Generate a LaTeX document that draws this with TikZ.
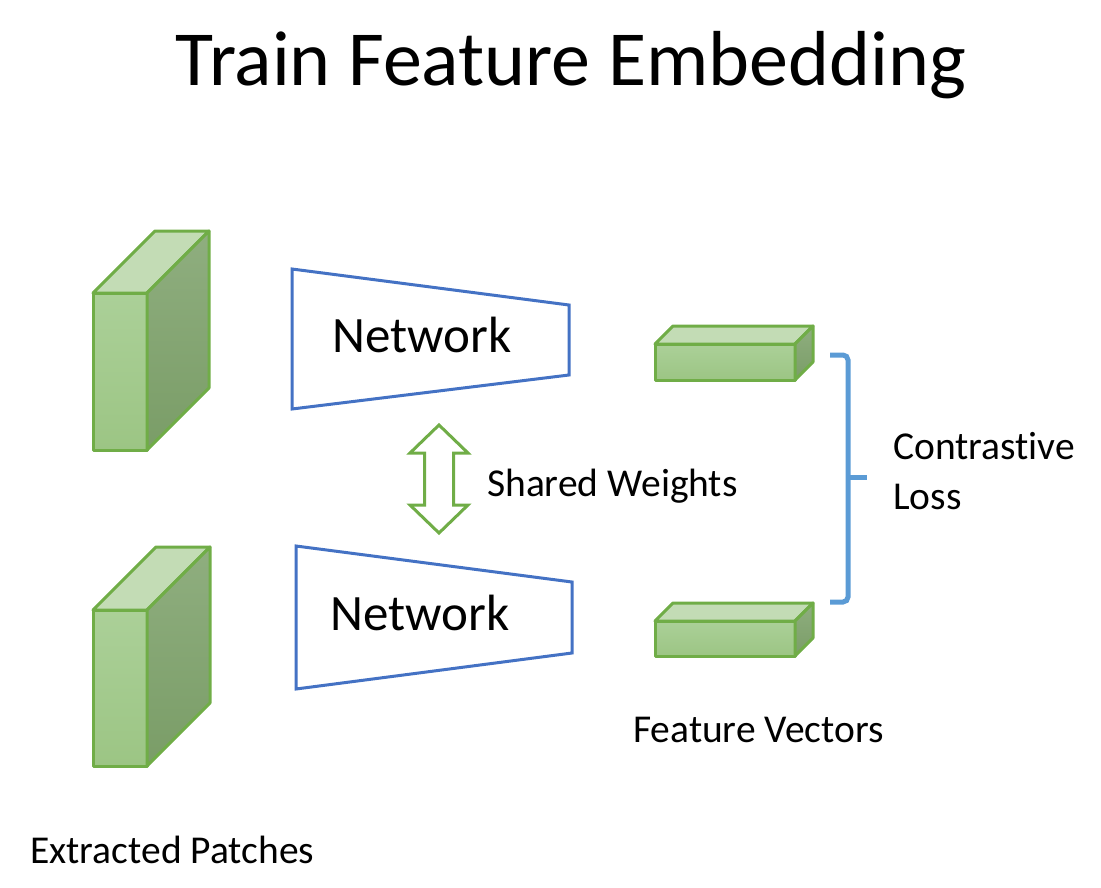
\documentclass[tikz,border=0pt]{standalone}
\usepackage{fontspec}
\setmainfont{Carlito}[Ligatures=NoCommon]
\usetikzlibrary{positioning,calc}

\definecolor{boxline}{HTML}{70AD47}
\definecolor{netline}{HTML}{4472C4}
\definecolor{braceline}{HTML}{5B9BD5}
\definecolor{frontTop}{HTML}{ABD098}
\definecolor{frontBot}{HTML}{9CC584}
\definecolor{topFace}{HTML}{C3DCB5}
\definecolor{sideTop}{HTML}{8FAE7F}
\definecolor{sideBot}{HTML}{7A9D67}

\tikzset{
  cubeedge/.style  = {draw=boxline, line width=3pt, line join=round},
  frontface/.style = {cubeedge, top color=frontTop, bottom color=frontBot},
  topface/.style   = {cubeedge, fill=topFace},
  sideface/.style  = {cubeedge, top color=sideTop, bottom color=sideBot},
  network/.style   = {draw=netline, line width=3pt, line join=miter},
  arrowbox/.style  = {draw=boxline, line width=3pt, fill=white, line join=miter},
  brace/.style     = {draw=braceline, line width=5pt, rounded corners=5pt},
  lbl/.style       = {inner sep=0pt, font=\fontsize{39.5}{47}\selectfont},
  netlbl/.style    = {inner sep=0pt, font=\fontsize{51}{60}\selectfont},
}

% cuboid: name, x, y (front top left), width, height, depth
\newcommand{\cuboid}[6]{%
  \coordinate (#1) at (#2,#3);
  \path[frontface] (#1) rectangle ++(#4,#5);
  \path[topface] (#1) -- ++(#6,-#6) -- ++(#4,0) -- ++(-#6,#6) -- cycle;
  \path[sideface] ($(#1)+(#4,0)$) -- ++(#6,-#6) -- ++(0,#5) -- ++(-#6,#6) -- cycle;
}

\begin{document}
\begin{tikzpicture}[x=1pt, y=-1pt]
  \useasboundingbox (0,0) rectangle (1101,887);

  \node[inner sep=0pt, anchor=base, font=\fontsize{78}{90}\selectfont]
    (title) at (571,85) {Train Feature Embedding};

  % patches
  \cuboid{patchA}{93}{293}{54}{157}{62}
  \cuboid{patchB}{93}{610}{54}{156}{63}
  \node[lbl, anchor=base west] (patchLbl) at (30,863) {Extracted Patches};

  % networks
  \draw[network] (292,269) -- (569,305) -- (569,375) -- (292,409) -- cycle;
  \node[netlbl, anchor=base] (netA) at (422,352) {Network};
  \draw[network] (296,546) -- (572,582) -- (572,653) -- (296,689) -- cycle;
  \node[netlbl, anchor=base] (netB) at (420,630) {Network};

  % shared weights
  \draw[arrowbox] (439,425) -- (468,453) -- (453.5,453) -- (453.5,505)
    -- (468,505) -- (439,533) -- (410,505) -- (424.5,505) -- (424.5,453)
    -- (410,453) -- cycle;
  \coordinate (shared) at (468,486);
  \node[lbl, right=19pt of shared] (sharedLbl) {Shared Weights};

  % feature vectors
  \cuboid{featA}{655}{344}{140}{36}{18}
  \cuboid{featB}{655}{621}{140}{35}{18}
  \node[lbl, anchor=base west] (featLbl) at (633,742) {Feature Vectors};

  % contrastive loss
  \coordinate (braceTop) at (830,355);
  \coordinate (braceBot) at (830,602);
  \coordinate (braceMid) at (848,477);
  \draw[brace] (braceTop) -| (braceMid) |- (braceBot);
  \draw[brace] (braceMid) -- ++(19,0);
  \node[lbl, anchor=base west] (lossA) at (893,459) {Contrastive};
  \node[lbl, anchor=base west] (lossB) at (893,509) {Loss};
\end{tikzpicture}
\end{document}
